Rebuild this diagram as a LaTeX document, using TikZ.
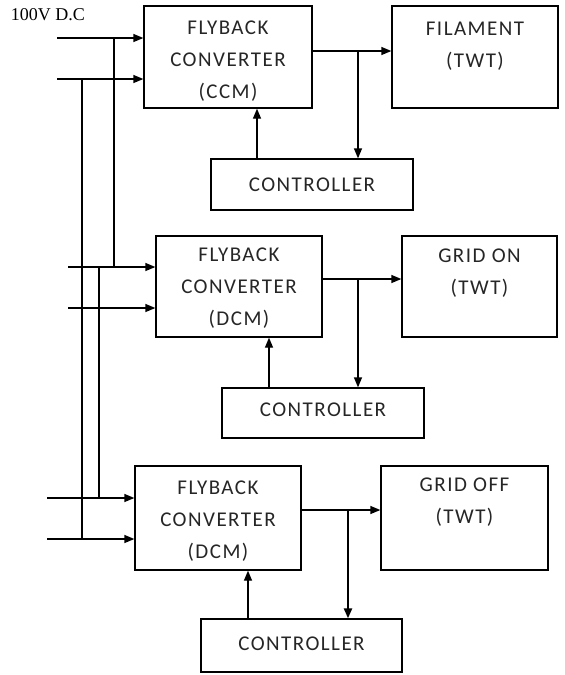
\documentclass[tikz,border=0pt]{standalone}
\usepackage{fontspec}
\setmainfont{Carlito}[LetterSpace=7]
\newfontfamily\serifl{Liberation Serif}
\usetikzlibrary{arrows.meta}
\begin{document}
\begin{tikzpicture}[x=1pt,y=-1pt,
  blk/.style={draw, line width=1.3pt, rectangle, inner sep=0pt},
  txt/.style={inner sep=0pt, align=center, text=black!85,
    font=\fontsize{21}{32}\selectfont},
  wire/.style={line width=1.3pt},
  thick wire/.style={line width=2.3pt},
  arr/.style={line width=1.3pt, -{Triangle[length=10pt,width=8pt]}},
  thick arr/.style={line width=2.2pt, -{Triangle[length=10pt,width=8pt]}}]
\useasboundingbox (0,0) rectangle (565,675);
\fill[white] (0,0) rectangle (565,675);

% label
\node[font=\serifl\fontsize{18}{20}\selectfont, inner sep=0pt] (lbl) at (48,15) {100V D.C};

% boxes
\node[blk, minimum width=168pt, minimum height=102pt,
  label={[txt, yshift=-4pt]center:{FLYBACK\\CONVERTER\\(CCM)}}] (fb1) at (228,57) {};
\node[blk, minimum width=166pt, minimum height=102pt,
  label={[txt, yshift=11pt]center:{FILAMENT\\(TWT)}}] (fil) at (475,57) {};
\node[blk, minimum width=202pt, minimum height=51pt,
  label={[txt, yshift=0pt]center:{CONTROLLER}}] (ctl1) at (312,184.5) {};

\node[blk, minimum width=166pt, minimum height=101pt,
  label={[txt, yshift=-2pt]center:{FLYBACK\\CONVERTER\\(DCM)}}] (fb2) at (239,286.5) {};
\node[blk, minimum width=155pt, minimum height=101pt,
  label={[txt, yshift=13pt]center:{GRID ON\\(TWT)}}] (gon) at (479.5,286.5) {};
\node[blk, minimum width=202pt, minimum height=50pt,
  label={[txt, yshift=3pt]center:{CONTROLLER}}] (ctl2) at (323,413) {};

\node[blk, minimum width=166pt, minimum height=104pt,
  label={[txt, yshift=-3pt]center:{FLYBACK\\CONVERTER\\(DCM)}}] (fb3) at (218,518) {};
\node[blk, minimum width=167pt, minimum height=104pt,
  label={[txt, yshift=16pt]center:{GRID OFF\\(TWT)}}] (goff) at (464.5,518) {};
\node[blk, minimum width=201pt, minimum height=53pt,
  label={[txt, yshift=2pt]center:{CONTROLLER}}] (ctl3) at (301.5,645.5) {};

% input free ends
\coordinate (i11) at (57,38);
\coordinate (i12) at (57,79);
\coordinate (i21) at (68,267);
\coordinate (i22) at (68,308);
\coordinate (i31) at (47,498);
\coordinate (i32) at (47,539);

% inputs
\draw[arr] (i11) -- (i11 -| fb1.west);
\draw[arr] (i12) -- (i12 -| fb1.west);
\draw[arr] (i21) -- (i21 -| fb2.west);
\draw[arr] (i22) -- (i22 -| fb2.west);
\draw[arr] (i31) -- (i31 -| fb3.west);
\draw[arr] (i32) -- (i32 -| fb3.west);

% bus lines
\coordinate (b1t) at (114,38);
\coordinate (b1b) at (114,267);
\coordinate (b2t) at (82,79);
\coordinate (b2b) at (82,539);
\coordinate (b3t) at (99,267);
\coordinate (b3b) at (99,498);
\draw[wire] (b1t) -- (b1b);
\draw[thick wire] (b2t) -- (b2b);
\draw[thick wire] (b3t) -- (b3b);

% outputs
\coordinate (j1) at (358,51);
\coordinate (j2) at (358,279);
\coordinate (j3) at (348,510);
\draw[wire] (fb1.east |- j1) -- (j1);
\draw[arr] (j1) -- (fil.west |- j1);
\draw[arr] (j1) -- (j1 |- ctl1.north);
\draw[wire] (fb2.east |- j2) -- (j2);
\draw[arr] (j2) -- (gon.west |- j2);
\draw[arr] (j2) -- (j2 |- ctl2.north);
\draw[wire] (fb3.east |- j3) -- (j3);
\draw[arr] (j3) -- (goff.west |- j3);
\draw[thick arr] (j3) -- (j3 |- ctl3.north);

% feedback
\coordinate (f1) at (257,0);
\coordinate (f2) at (269,0);
\coordinate (f3) at (248,0);
\draw[arr] (f1 |- ctl1.north) -- (f1 |- fb1.south);
\draw[arr] (f2 |- ctl2.north) -- (f2 |- fb2.south);
\draw[arr] (f3 |- ctl3.north) -- (f3 |- fb3.south);
\end{tikzpicture}
\end{document}
